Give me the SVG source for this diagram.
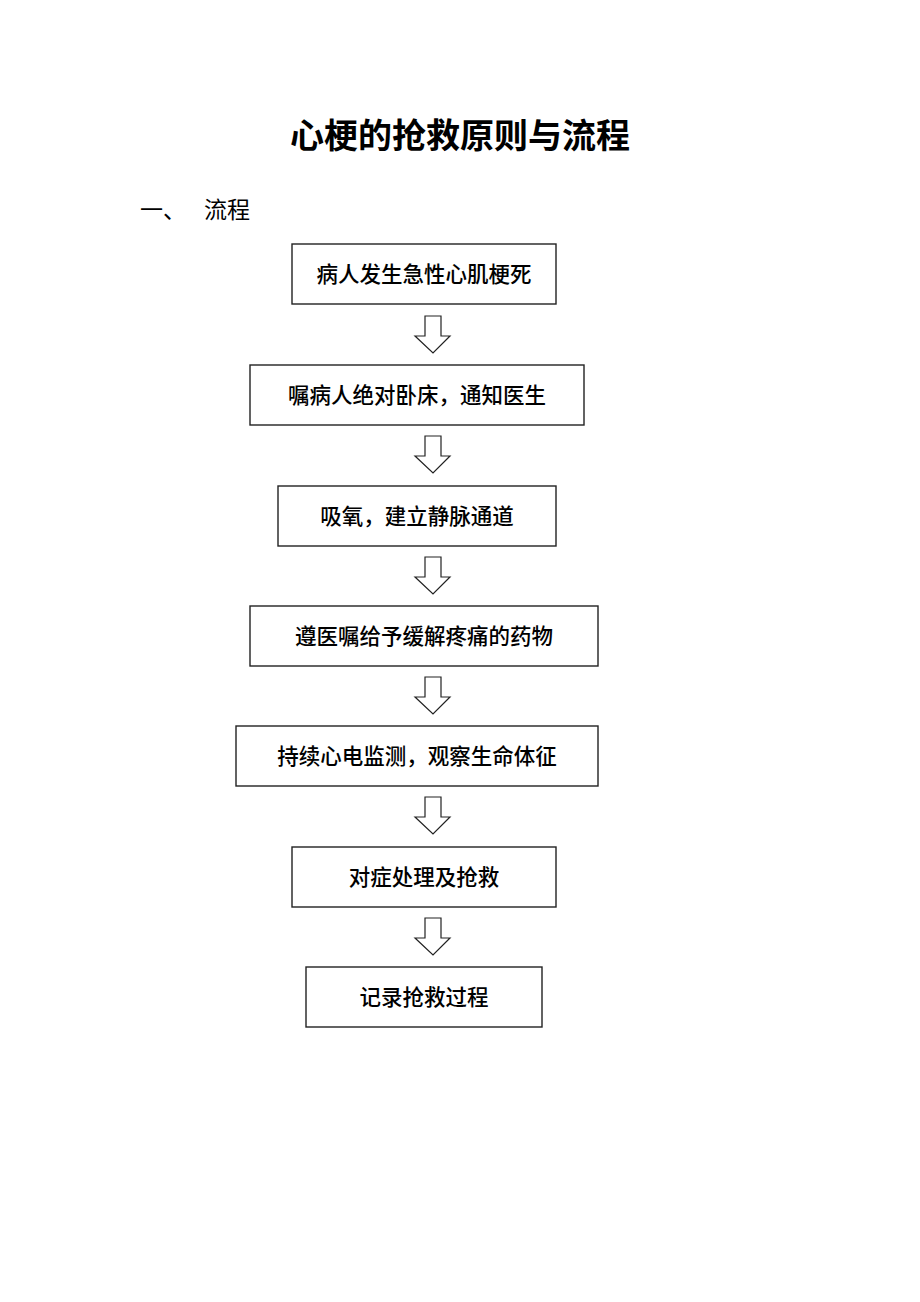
<svg xmlns="http://www.w3.org/2000/svg" width="920" height="1302" viewBox="0 0 920 1302">
<style>
.box{fill:#fff;stroke:#222;stroke-width:1.4}
.t{font-family:"Noto Sans CJK SC",sans-serif;font-size:21.5px;font-weight:500;fill:#000;text-anchor:middle}
.arr{fill:#fff;stroke:#222;stroke-width:1.2;stroke-linejoin:miter}
</style>
<rect width="920" height="1302" fill="#fff"/>
<text x="460" y="148" font-family="'Noto Sans CJK SC',sans-serif" font-size="34" font-weight="bold" text-anchor="middle">心梗的抢救原则与流程</text>
<text x="140" y="218" font-family="'Noto Sans CJK SC',sans-serif" font-size="23">一、</text>
<text x="204" y="218" font-family="'Noto Sans CJK SC',sans-serif" font-size="23">流程</text>
<g id="n1"><rect class="box" x="292" y="244" width="264" height="60"/><text class="t" x="424" y="282">病人发生急性心肌梗死</text></g>
<g id="n2"><rect class="box" x="250" y="365" width="334" height="60"/><text class="t" x="417" y="403">嘱病人绝对卧床，通知医生</text></g>
<g id="n3"><rect class="box" x="278" y="486" width="278" height="60"/><text class="t" x="417" y="524">吸氧，建立静脉通道</text></g>
<g id="n4"><rect class="box" x="250" y="606" width="348" height="60"/><text class="t" x="424" y="644">遵医嘱给予缓解疼痛的药物</text></g>
<g id="n5"><rect class="box" x="236" y="726" width="362" height="60"/><text class="t" x="417" y="764">持续心电监测，观察生命体征</text></g>
<g id="n6"><rect class="box" x="292" y="847" width="264" height="60"/><text class="t" x="424" y="885">对症处理及抢救</text></g>
<g id="n7"><rect class="box" x="306" y="967" width="236" height="60"/><text class="t" x="424" y="1005">记录抢救过程</text></g>
<g id="connectors">
<path class="arr" d="M425,316 H441 V336 H450 L433,353 L415,336 H425 Z"/>
<path class="arr" d="M425,436 H441 V456 H450 L433,473 L415,456 H425 Z"/>
<path class="arr" d="M425,557 H441 V577 H450 L433,594 L415,577 H425 Z"/>
<path class="arr" d="M425,677 H441 V697 H450 L433,714 L415,697 H425 Z"/>
<path class="arr" d="M425,797 H441 V817 H450 L433,834 L415,817 H425 Z"/>
<path class="arr" d="M425,918 H441 V938 H450 L433,955 L415,938 H425 Z"/>
</g>
</svg>
